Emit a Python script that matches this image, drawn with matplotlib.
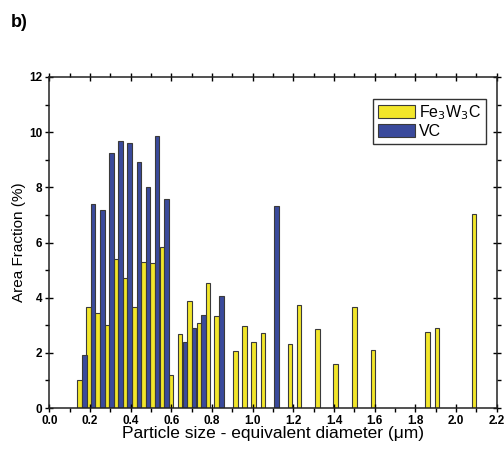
import matplotlib
matplotlib.use("Agg")
import matplotlib.pyplot as plt
from matplotlib.ticker import MultipleLocator

plt.rcParams['font.family'] = ['Liberation Sans', 'DejaVu Sans']

fe_x = [0.149, 0.193, 0.237, 0.284, 0.328, 0.371, 0.418, 0.463, 0.508, 0.553,
        0.597, 0.643, 0.689, 0.735, 0.780, 0.821, 0.915, 0.960, 1.003, 1.051,
        1.184, 1.227, 1.318, 1.408, 1.500, 1.590, 1.860, 1.907, 2.088]
fe_y = [1.0, 3.67, 3.43, 3.0, 5.39, 4.73, 3.67, 5.31, 5.27, 5.83,
        1.2, 2.67, 3.89, 3.07, 4.53, 3.33, 2.08, 2.98, 2.40, 2.72,
        2.33, 3.73, 2.87, 1.61, 3.65, 2.09, 2.75, 2.90, 7.02]
vc_x = [0.172, 0.215, 0.261, 0.306, 0.349, 0.395, 0.440, 0.486, 0.530, 0.575,
        0.666, 0.712, 0.757, 0.846, 1.117]
vc_y = [1.92, 7.39, 7.19, 9.25, 9.67, 9.59, 8.92, 8.0, 9.86, 7.58,
        2.38, 2.89, 3.36, 4.07, 7.32]

series_labels = ['Fe$_3$W$_3$C', 'VC']
x_label = 'Particle size - equivalent diameter (\u03bcm)'
y_label = 'Area Fraction (%)'

fig = plt.figure(figsize=(5.04, 4.5), dpi=100)
ax = fig.add_axes([0.0978, 0.0933, 0.888, 0.7356])

yellow = '#F2E62A'
blue = '#3A4A9C'
edge = '#3a3a3a'
w = 0.022
ax.bar(fe_x, fe_y, width=w, color=yellow, edgecolor=edge, linewidth=0.8, label=series_labels[0])
ax.bar(vc_x, vc_y, width=w, color=blue, edgecolor=edge, linewidth=0.8, label=series_labels[1])

ax.set_xlim(0, 2.2)
ax.set_ylim(0, 12)
ax.xaxis.set_minor_locator(MultipleLocator(0.1))
ax.yaxis.set_major_locator(MultipleLocator(2))
ax.yaxis.set_minor_locator(MultipleLocator(1))
ax.set_xticks([i * 0.2 for i in range(12)])
ax.set_xticklabels(['%.1f' % (i * 0.2) for i in range(12)])

ax.tick_params(which='major', direction='inout', length=6, width=1, top=True, right=True,
               labelsize=8.5, pad=2)
ax.tick_params(which='minor', direction='out', length=3, width=1, top=True, right=True)
for lbl in ax.get_xticklabels() + ax.get_yticklabels():
    lbl.set_fontweight('bold')
for s in ax.spines.values():
    s.set_linewidth(1.1)
    s.set_color('#222222')

ax.set_xlabel(x_label, fontsize=12.5, labelpad=-1)
ax.set_ylabel(y_label, fontsize=11, labelpad=2)

leg = ax.legend(loc='upper right', bbox_to_anchor=(0.975, 0.935), fontsize=11.5,
                frameon=True, fancybox=False, edgecolor='#333333', framealpha=1,
                handlelength=2.3, handleheight=0.9, handletextpad=0.25,
                labelspacing=0.1, borderpad=0.3, borderaxespad=0)
leg.get_frame().set_linewidth(1.0)

fig.text(0.022, 0.95, 'b)', fontsize=13, fontweight='bold', va='center', ha='left')

fig.savefig('out.png', dpi=100)
